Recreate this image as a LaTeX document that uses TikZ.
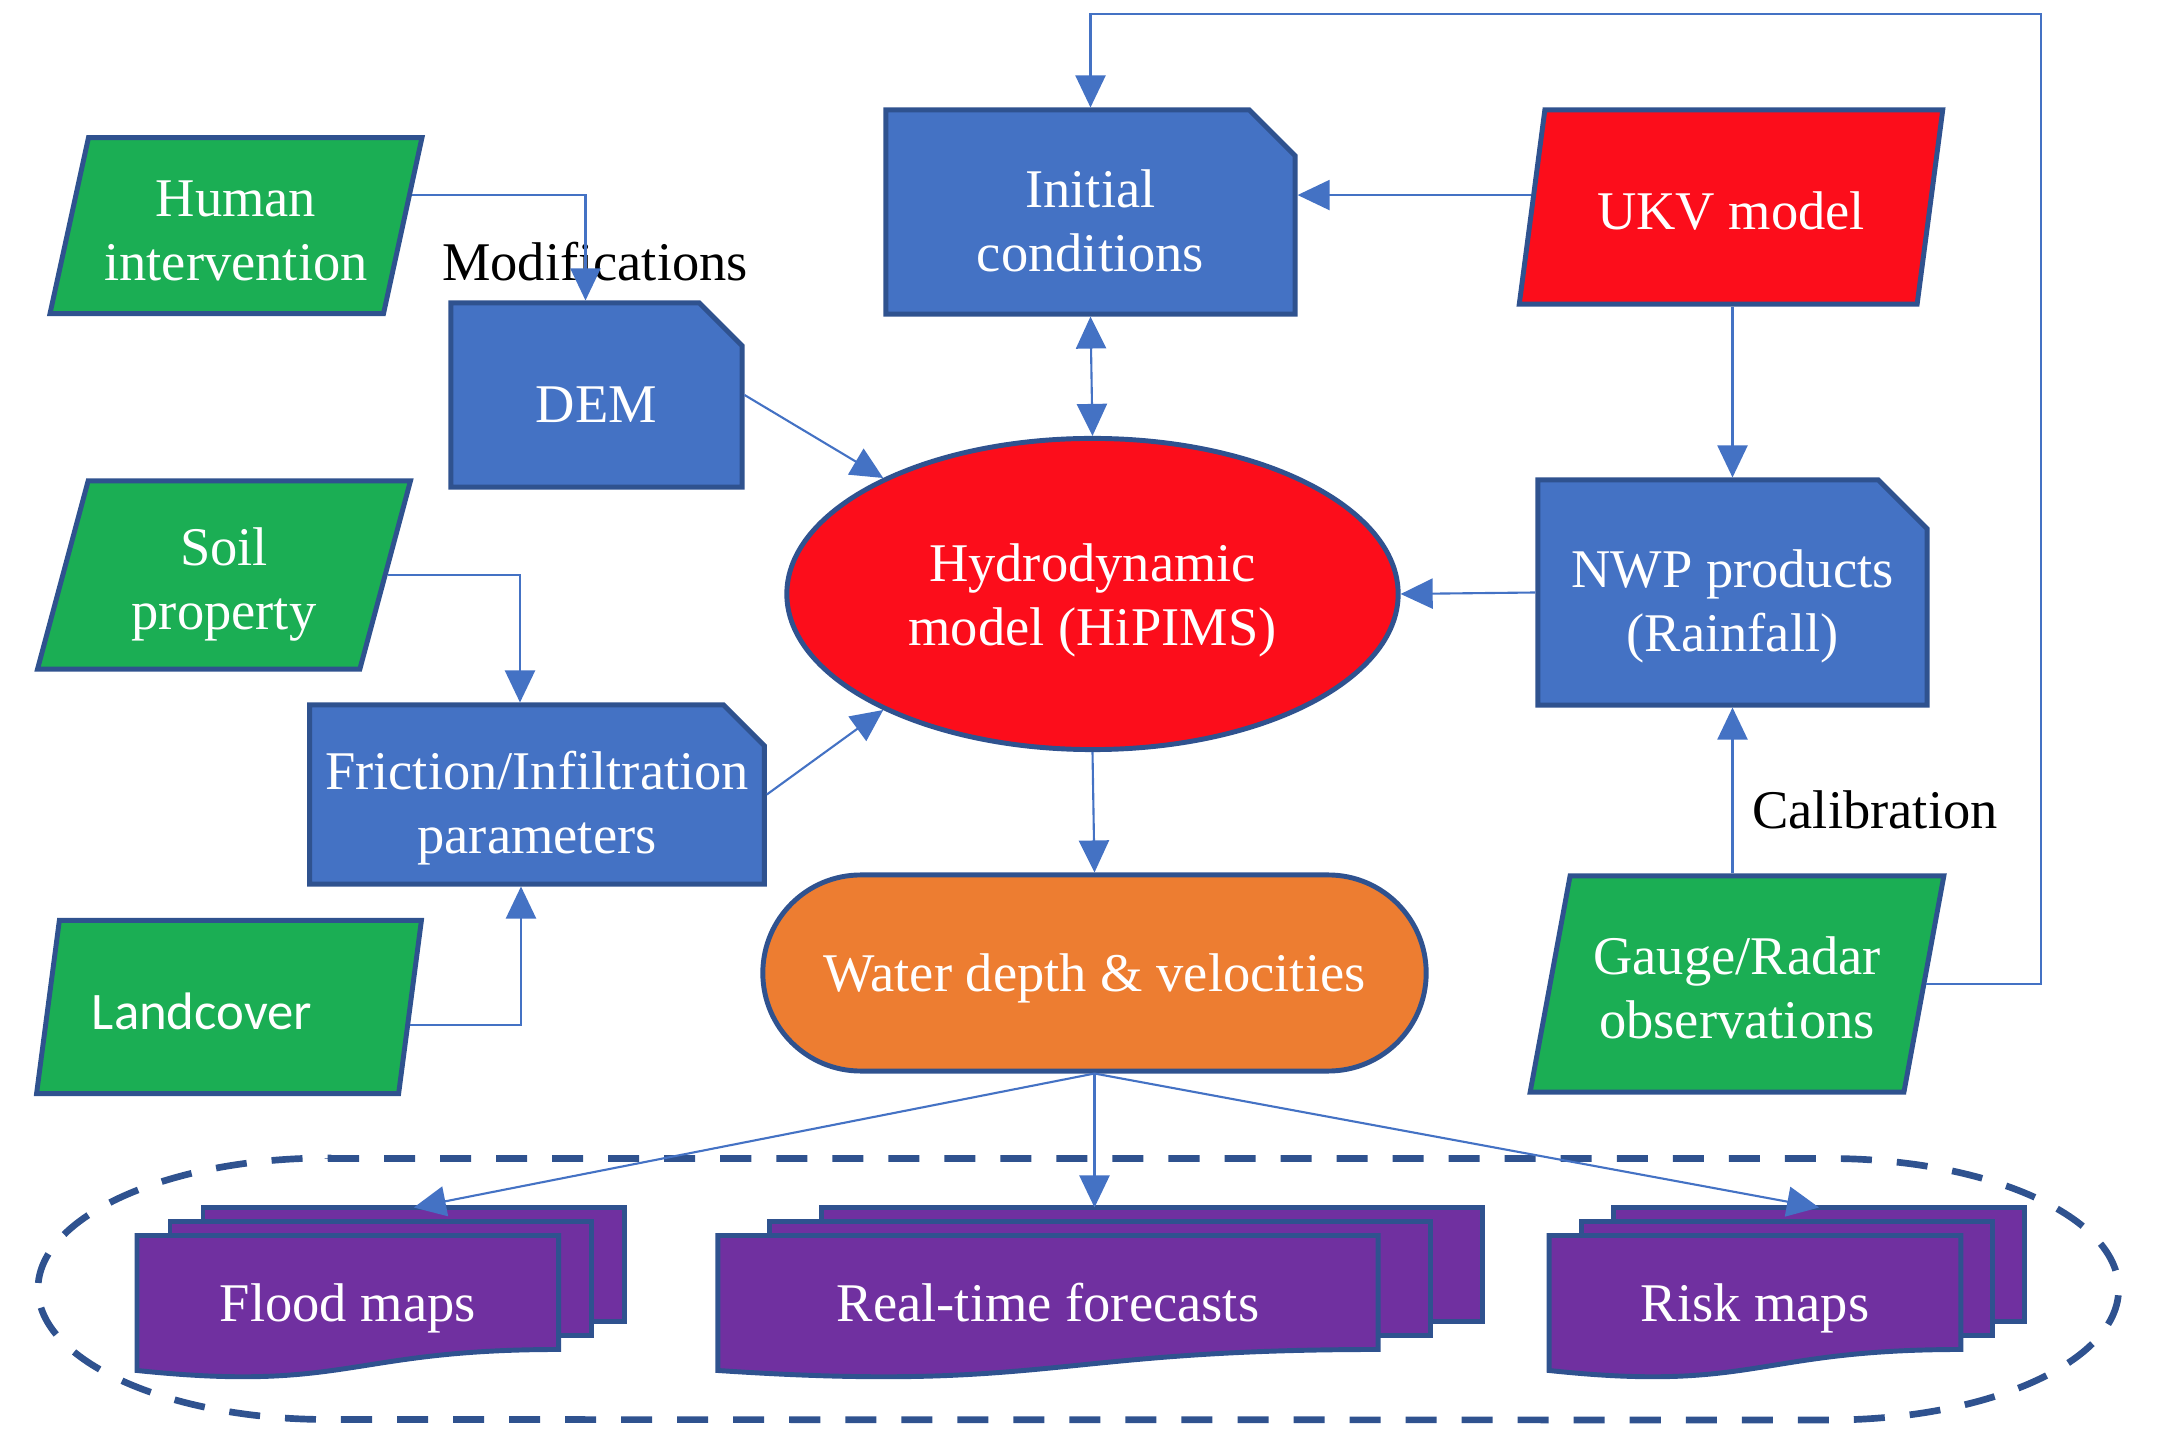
\documentclass[tikz,border=0pt]{standalone}
\usepackage{fontspec}
\setmainfont{Liberation Serif}[Ligatures=CommonOff]
\newfontfamily\calibrifont{Carlito}
\usetikzlibrary{arrows.meta,shapes.geometric,shapes.misc,calc,positioning,backgrounds}
\definecolor{myblue}{RGB}{68,114,196}
\definecolor{myborder}{RGB}{47,82,143}
\definecolor{mygreen}{RGB}{27,174,84}
\definecolor{myred}{RGB}{252,13,27}
\definecolor{myorange}{RGB}{237,125,49}
\definecolor{mypurple}{RGB}{112,48,160}

\begin{document}
\begin{tikzpicture}[x=0.01cm,y=-0.01cm,
  font=\fontsize{15.5pt}{18.2pt}\selectfont,
  >={Triangle[length=0.32cm,width=0.3cm]},
  vpad/.style={execute at begin node={\rule{0pt}{#1}},execute at end node={\rule[-4pt]{0pt}{0pt}}},
  box/.style={draw=myborder,line width=1.4pt,text=white,align=center,inner sep=0pt},
  datanode/.style={box,vpad=17pt,trapezium,trapezium left angle=76,trapezium right angle=104,
    trapezium stretches=true,fill=mygreen},
  filenode/.style={box,vpad=19.4pt,inner xsep=-.2cm,chamfered rectangle,chamfered rectangle corners=north east,fill=myblue},
  arr/.style={->,draw=myblue,line width=0.6pt},
  page/.style={draw=myborder,line width=1.4pt,fill=mypurple},
  doc/.style={text=white,inner sep=0pt,vpad=14.6pt},
  lbl/.style={text=black}]

  \useasboundingbox (0,0) rectangle (2160,1440);

  % inputs on the left
  \node[datanode,vpad=35.2pt,minimum width=3.75cm,minimum height=1.76cm] (hum) at (236,225.6) {Human\\intervention};
  \node[datanode,vpad=35.2pt,minimum width=3.75cm,minimum height=1.88cm] (soil) at (224,575) {Soil\\property};
  \node[datanode,minimum width=3.85cm,minimum height=1.73cm,font=\fontsize{15pt}{18pt}\calibrifont] (land) at (229,1007) {Landcover\hspace{.54cm}};

  \node[filenode,minimum width=2.91cm,minimum height=1.84cm,chamfered rectangle xsep=.32cm] (dem) at (596.5,395) {DEM};
  \node[filenode,vpad=37.6pt,minimum width=4.545cm,minimum height=1.79cm,chamfered rectangle xsep=.30cm] (fric) at (537,794.5) {Friction/Infiltration\\parameters};
  \node[lbl] (modif) at (595,262) {Modifications};

  % model in the middle
  \node[filenode,vpad=37.6pt,minimum width=4.09cm,minimum height=2.04cm,chamfered rectangle xsep=.35cm] (init) at (1090.5,212) {Initial\\conditions};
  \node[box,vpad=33.5pt,ellipse,fill=myred,minimum width=6.11cm,minimum height=3.11cm] (hydro) at (1092.5,594) {Hydrodynamic\\model (HiPIMS)};
  \node[box,vpad=14.6pt,rounded rectangle,fill=myorange,minimum width=6.63cm,minimum height=1.96cm] (water) at (1094.5,973) {Water depth \& velocities};

  % weather on the right
  \node[datanode,fill=myred,minimum width=4.25cm,minimum height=1.94cm] (ukv) at (1731,207) {UKV model};
  \node[filenode,vpad=37.6pt,minimum width=3.89cm,minimum height=2.25cm,chamfered rectangle xsep=.38cm] (nwp) at (1732.5,592.5) {NWP products\\(Rainfall)};
  \node[datanode,vpad=35.2pt,minimum width=4.14cm,minimum height=2.16cm] (gauge) at (1737,984) {Gauge/Radar\\observations};
  \node[lbl] (calib) at (1875,809.5) {Calibration};

  % outputs
  \node[doc,minimum width=4.2cm,minimum height=1.335cm] (flood) at (347.8,1303) {Flood maps};
  \node[doc,minimum width=6.585cm,minimum height=1.335cm] (rt) at (1048,1303) {Real-time forecasts};
  \node[doc,minimum width=4.1cm,minimum height=1.335cm] (risk) at (1755,1303) {Risk maps};

  \begin{scope}[on background layer]
  \foreach \d/\s in {flood/33,rt/52,risk/32}{
    \draw[page] ($(\d.north west)+(2*\s,-28)$) rectangle ($(\d.south east)+(2*\s,-49)$);
    \draw[page] ($(\d.north west)+(\s,-14)$) rectangle ($(\d.south east)+(\s,-35)$);
    \draw[page] (\d.north west) -- (\d.north east) -- ($(\d.south east)+(0,-21)$)
      .. controls ($(\d.south)+(0,-21)$) and ($(\d.south)+(0,22)$) .. (\d.south west) -- cycle;
  }
  \end{scope}

  \draw[myborder,line width=1.9pt,dash pattern=on 0.31cm off 0.25cm]
    (328,1158.5) -- (1828.6,1158.5) arc[start angle=-90,end angle=90,x radius=290,y radius=130.75]
    -- (328,1419.5) arc[start angle=90,end angle=270,x radius=290,y radius=130.75] -- cycle;

  % connectors on the left
  \draw[arr] ($(hum.top right corner)!.33!(hum.bottom right corner)$) -| ([xshift=-.11cm]dem.north);
  \draw[arr] (soil.east) -| ([xshift=-.17cm]fric.north);
  \draw[arr] ($(land.top right corner)!.6!(land.bottom right corner)$) -| ([xshift=-.16cm]fric.south);
  \draw[arr] (dem.east) -- (hydro.151);
  \draw[arr] (fric.east) -- (hydro.209);

  % connectors on the right
  \coordinate (loop) at (2040.7,13.8);
  \draw[arr] (gauge.east) -| (loop) -| (init.north);
  \draw[arr] ($(ukv.top left corner)!.44!(ukv.bottom left corner)$) coordinate (ukvw) -- (ukvw -| init.east);
  \draw[arr] (nwp.north |- ukv.south) -- (nwp.north);
  \draw[arr] (nwp.west) -- (hydro.east);
  \draw[arr] (nwp.south |- gauge.north) -- (nwp.south);

  % connectors in the middle
  \draw[arr,<->] (init.south) -- (hydro.north);
  \draw[arr] (hydro.south) -- (water.north);
  \draw[arr] (water.south) -- ($(flood.north)+(66,-28)$);
  \draw[arr] (water.south) -- ($(water.south |- rt.north)+(0,-28)$);
  \draw[arr] (water.south) -- ($(risk.north)+(64,-28)$);

\end{tikzpicture}
\end{document}
